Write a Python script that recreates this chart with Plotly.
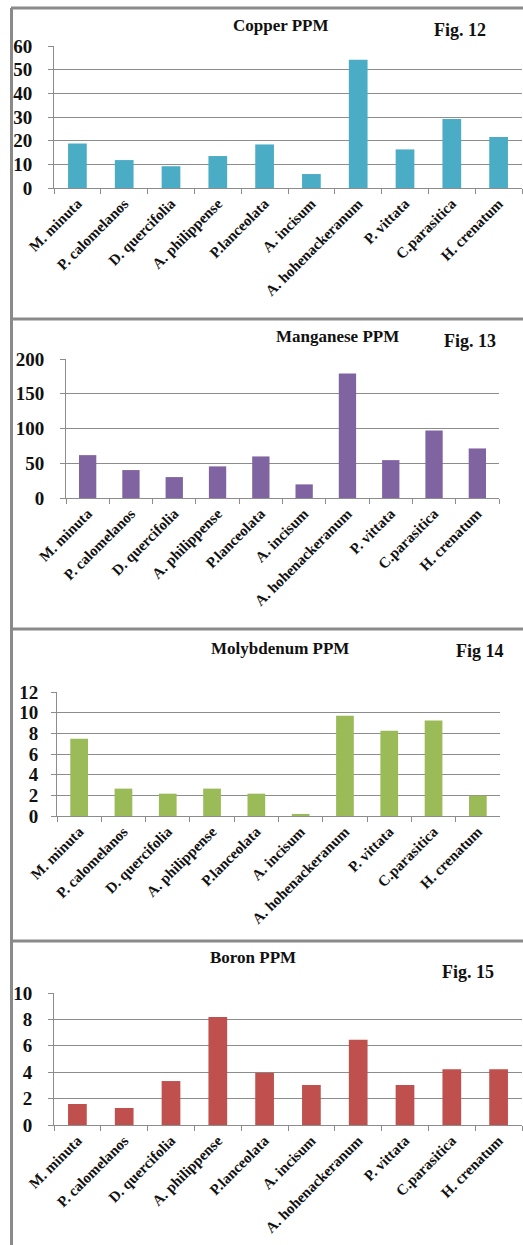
import plotly.graph_objects as go

# Fern species sampled
species = ["M. minuta", "P. calomelanos", "D. quercifolia", "A. philippense",
           "P.lanceolata", "A. incisum", "A. hohenackeranum", "P. vittata",
           "C.parasitica", "H. crenatum"]

# Micronutrient concentrations (PPM)
copper = [18.8, 11.8, 9.2, 13.5, 18.4, 5.9, 54.2, 16.3, 29.2, 21.6]
manganese = [61.7, 40.2, 30.1, 45.5, 59.8, 19.6, 179.0, 54.5, 97.1, 71.3]
molybdenum = [7.48, 2.65, 2.16, 2.65, 2.16, 0.2, 9.7, 8.26, 9.23, 1.97]
boron = [1.59, 1.29, 3.33, 8.18, 3.96, 3.03, 6.46, 3.03, 4.22, 4.22]

titles = ["Copper PPM", "Manganese PPM", "Molybdenum PPM", "Boron PPM"]
fig_tags = ["Fig. 12", "Fig. 13", "Fig 14", "Fig. 15"]
y_ranges = [[0, 60], [0, 200], [0, 12], [0, 10]]
y_dticks = [10, 50, 2, 2]
colors = ["#4BACC6", "#8064A2", "#9BBB59", "#C0504D"]
series = [copper, manganese, molybdenum, boron]

W, H = 523, 1245
# plot area boxes in pixels: left, right, top, bottom
boxes = [(54, 522, 46, 188), (66, 499, 359, 498), (57, 500, 692, 816), (54, 522, 993, 1125)]
# title / tag positions in pixels
title_pos = [(281, 25), (337, 336), (280, 648), (253, 957)]
tag_pos = [(460, 30), (470, 341), (480, 651), (468, 972)]
label_gap = [12, 12, 9, 12]

FONT = "Liberation Serif"
GRID = "#8c8c8c"

fig = go.Figure()
layout = dict(width=W, height=H, margin=dict(l=0, r=0, t=0, b=0, autoexpand=False),
              paper_bgcolor="white", plot_bgcolor="white", showlegend=False,
              bargap=0.6)

annotations = []
for i, (vals, col) in enumerate(zip(series, colors)):
    n = "" if i == 0 else str(i + 1)
    fig.add_trace(go.Bar(x=species, y=vals, marker=dict(color=col, line=dict(width=0)),
                         xaxis="x" + n, yaxis="y" + n))
    l, r, t, b = boxes[i]
    layout["xaxis" + n] = dict(
        domain=[l / W, r / W], anchor="y" + n, type="category", automargin=False,
        tickangle=-45, tickson="boundaries", ticks="outside", ticklen=5,
        tickcolor=GRID, showline=True, linecolor=GRID, linewidth=1,
        showgrid=False, tickfont=dict(family=FONT, size=15, color="#111", weight="bold"))
    layout["yaxis" + n] = dict(
        domain=[1 - b / H, 1 - t / H], anchor="x" + n, range=y_ranges[i], automargin=False,
        dtick=y_dticks[i], ticks="outside", ticklen=5, tickcolor=GRID,
        showline=True, linecolor=GRID, linewidth=1, showgrid=True,
        gridcolor=GRID, gridwidth=1, zeroline=False, ticklabelstandoff=label_gap[i],
        tickfont=dict(family=FONT, size=19, color="#111", weight="bold"))
    tx, ty = title_pos[i]
    annotations.append(dict(text=titles[i], x=tx / W, y=1 - ty / H, xref="paper", yref="paper",
                            showarrow=False, xanchor="center", yanchor="middle",
                            font=dict(family=FONT, size=17, color="#111", weight="bold")))
    fx, fy = tag_pos[i]
    annotations.append(dict(text=fig_tags[i], x=fx / W, y=1 - fy / H, xref="paper", yref="paper",
                            showarrow=False, xanchor="center", yanchor="middle",
                            font=dict(family=FONT, size=18, color="#111", weight="bold")))

# panel frame lines
BORDER = "#8a8a8a"
shapes = [dict(type="line", xref="paper", yref="paper", x0=11.5 / W, x1=11.5 / W,
               y0=1 - 8 / H, y1=0, line=dict(color=BORDER, width=3))]
for yy in [8, 319, 629, 941]:
    shapes.append(dict(type="line", xref="paper", yref="paper", x0=11 / W, x1=1,
                       y0=1 - yy / H, y1=1 - yy / H, line=dict(color=BORDER, width=3)))

layout["annotations"] = annotations
layout["shapes"] = shapes
fig.update_layout(**layout)
fig.write_html("out.html")
